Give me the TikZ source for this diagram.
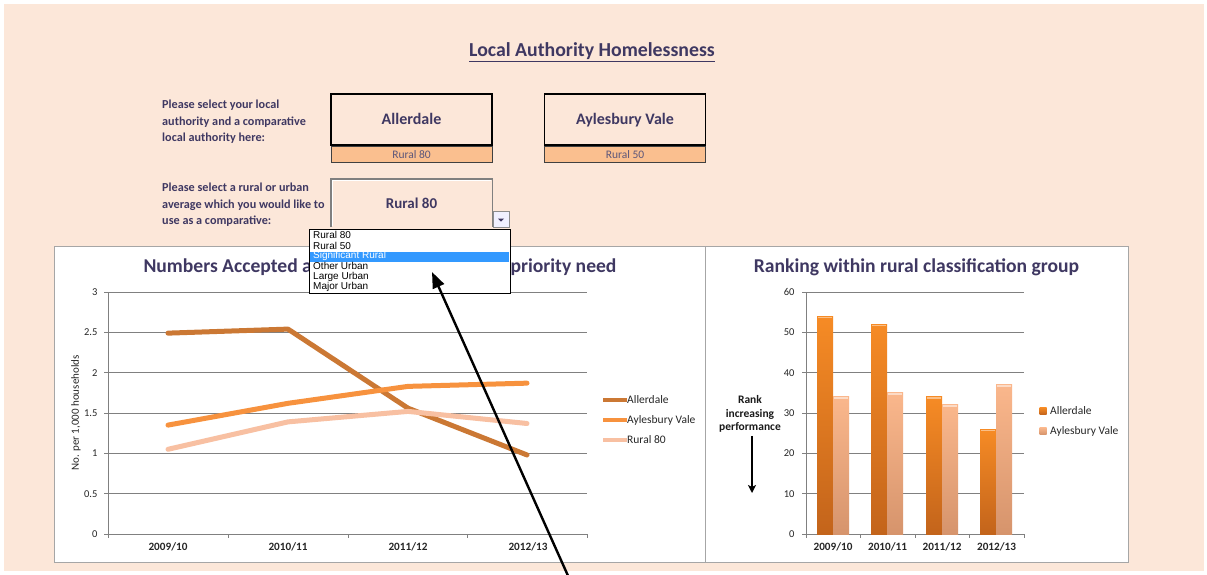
\documentclass[tikz,border=0pt]{standalone}
\usepackage{fontspec}
\setmainfont{Carlito}
\newfontfamily\listfont{Liberation Sans}
\usetikzlibrary{arrows.meta,positioning}
\definecolor{peach}{HTML}{FCE7D9}
\definecolor{navy}{HTML}{3F3862}
\definecolor{band}{HTML}{FABF8F}
\definecolor{allercol}{HTML}{CB7834}
\definecolor{aylescol}{HTML}{F7923E}
\definecolor{ruralcol}{HTML}{F8C0A2}
\definecolor{barA}{HTML}{F68B25}
\definecolor{barAdark}{HTML}{C3641B}
\definecolor{barB}{HTML}{FAB78C}
\definecolor{barBdark}{HTML}{D6946C}
\definecolor{pickblue}{HTML}{3399FF}
\tikzset{
  pickbox/.style={draw, line width=1.6pt, minimum width=161pt, minimum height=51pt,
    inner sep=0pt, text height=1.1em, text depth=0.2em, text=navy,
    font=\fontsize{16}{18}\selectfont\bfseries},
  classband/.style={draw=black!75, line width=0.8pt, fill=band, minimum width=161pt,
    minimum height=16pt, inner sep=0pt, text=navy!85, font=\fontsize{11.5}{12}\selectfont},
  asktext/.style={align=left, anchor=north west, inner sep=0pt, text=navy,
    font=\fontsize{12.2}{16.6}\selectfont\bfseries},
  chartframe/.style={draw=black!35, line width=1.3pt, fill=white, inner sep=0pt},
  charttitle/.style={text=navy, font=\fontsize{19.6}{22}\selectfont\bfseries},
  gridline/.style={draw=black!50, line width=0.8pt},
  ticklabel/.style={text=black!85, font=\fontsize{10.5}{12}\selectfont},
  catlabel/.style={text=black!85, font=\fontsize{11.2}{12}\selectfont\bfseries},
  legtext/.style={anchor=west, inner sep=0pt, text=black!85, font=\fontsize{11.5}{12}\selectfont},
  listitem/.style={anchor=west, inner sep=0pt, font=\listfont\fontsize{10}{10}\selectfont},
  serie/.style={line width=5pt, line cap=round, line join=round}
}

\begin{document}
\begin{tikzpicture}[x=1pt, y=-1pt]
\useasboundingbox (0,0) rectangle (1207,574);
\fill[peach] (4,4) rectangle (1204,571);

\node[text=navy, font=\fontsize{19.8}{22}\selectfont\bfseries] (head) at (592,52)
  {\underline{Local Authority Homelessness}};

% choices
\node[asktext] (ask1) at (162,100) {Please select your local\\authority and a comparative\\local authority here:};
\node[pickbox] (la) at (411.5,119.5) {Allerdale};
\node[classband, below=0pt of la] (laclass) {Rural 80};
\node[pickbox] (cmp) at (625,119.5) {Aylesbury Vale};
\node[classband, below=0pt of cmp] (cmpclass) {Rural 50};

\node[asktext] (ask2) at (162,183) {Please select a rural or urban\\average which you would like to\\use as a comparative:};
\node[minimum width=161pt, minimum height=48pt, inner sep=0pt, text=navy,
  font=\fontsize{15}{17}\selectfont\bfseries] (avg) at (411.5,203) {Rural 80};
\draw[black!50, line width=1.4pt] (avg.south west) |- (avg.north east) -- (avg.south east);
\draw[white, line width=0.8pt] ([xshift=1.5pt,yshift=1pt]avg.south west) |- ([xshift=-1.5pt,yshift=-1.5pt]avg.north east);
\node[draw=black!45, fill=blue!6, minimum size=16pt, inner sep=0pt] (drop) at (501,219.5) {};
\fill[navy] (drop.center) ++(-3,-1) -- ++(6,0) -- ++(-3,3) -- cycle;

% line chart
\node[chartframe, minimum width=651pt, minimum height=316pt, anchor=north west] (lchart) at (54,246) {};
\node[charttitle, anchor=west] (ltitle1) at (140,267) {Numbers Accepted a};
\node[charttitle, anchor=east] (ltitle2) at (620,267) {priority need};
\foreach \v/\t [count=\i] in {0/0,0.5/0.5,1/1,1.5/1.5,2/2,2.5/2.5,3/3}{
  \draw[gridline] (104,{534-80.67*\v}) -- (587,{534-80.67*\v});
  \node[ticklabel, anchor=east] (ly\i) at (101,{534-80.67*\v}) {\t};
}
\draw[gridline] (108,292) -- (108,538);
\foreach \x in {228,348,467,587} \draw[gridline] (\x,534) -- (\x,538);
\foreach \a/\b [count=\i] in {2009/10,2010/11,2011/12,2012/13}
  \node[catlabel] (lx\i) at (48+120*\i,547) {\a/\b};
\node[ticklabel, font=\fontsize{11}{12}\selectfont, rotate=90] (lyname) at (76,413) {No. per 1,000 households};
\begin{scope}[shift={(108,534)}, y=80.67pt]
  \draw[serie, allercol] (60,2.49) -- (180,2.54) -- (300,1.56) -- (419,0.98);
  \draw[serie, aylescol] (60,1.35) -- (180,1.62) -- (300,1.83) -- (419,1.87);
  \draw[serie, ruralcol] (60,1.05) -- (180,1.39) -- (300,1.52) -- (419,1.37);
\end{scope}
\foreach \c/\t [count=\i] in {allercol/Allerdale,aylescol/Aylesbury Vale,ruralcol/Rural 80}{
  \draw[\c, line width=4pt] (603,380+20*\i) -- (627,380+20*\i);
  \node[legtext] (lleg\i) at (627,380+20*\i) {\t};
}

% bar chart
\node[chartframe, minimum width=423pt, minimum height=316pt, anchor=north west] (rchart) at (705,246) {};
\node[charttitle] (rtitle) at (916.5,267) {Ranking within rural classification group};
\foreach \v [count=\i] in {0,10,...,60}{
  \draw[gridline] (802,{534-4.033*\v}) -- (1024,{534-4.033*\v});
  \node[ticklabel, anchor=east] (ry\i) at (798,{534-4.033*\v}) {\v};
}
\draw[gridline] (806,292) -- (806,538);
\foreach \x in {860.5,915,969.5,1024} \draw[gridline] (\x,534) -- (\x,538);
\begin{scope}[shift={(806,534)}, y=4.033pt]
  \foreach \c/\a/\b in {27/54/34,81/52/35,136/34/32,190/26/37}{
    \shade[top color=barA, bottom color=barAdark] (\c-16,0) rectangle (\c,\a);
    \shade[top color=barB, bottom color=barBdark] (\c,0) rectangle (\c+16,\b);
    \draw[barA!55!white, line width=1.5pt] (\c-15,\a-0.3) -- (\c-1,\a-0.3);
    \draw[barB!50!white, line width=1.5pt] (\c+1,\b-0.3) -- (\c+15,\b-0.3);
  }
\end{scope}
\foreach \a/\b [count=\i] in {2009/10,2010/11,2011/12,2012/13}
  \node[catlabel] (rx\i) at (778.5+54.5*\i,547) {\a/\b};
\node[align=center, text=black!90, font=\fontsize{11.5}{13.5}\selectfont\bfseries] (rank) at (750,414)
  {Rank\\increasing\\performance};
\coordinate (rankend) at (752,493);
\draw[line width=1.6pt, -{Stealth[length=8pt,width=8pt,inset=2pt]}] (rank.south -| rankend) -- (rankend);
\shade[top color=barA, bottom color=barAdark] (1039.5,407.5) rectangle (1046.5,414.5);
\shade[top color=barB, bottom color=barBdark] (1039.5,427.5) rectangle (1046.5,434.5);
\node[legtext] (rleg1) at (1050,411) {Allerdale};
\node[legtext] (rleg2) at (1050,431) {Aylesbury Vale};

% open drop-down list
\node[draw, fill=white, line width=0.8pt, minimum width=201pt, minimum height=64pt,
  inner sep=0pt, anchor=north west] (menu) at (309,229) {};
\fill[pickblue] (310,251.5) rectangle (509,261.5);
\foreach \t/\c [count=\i] in {Rural 80/black,Rural 50/black,Significant Rural/white,Other Urban/black,Large Urban/black,Major Urban/black}
  \node[listitem, text=\c] (item\i) at (313,224.8+10.4*\i) {\t};

% pointer
\coordinate (pointer) at (432,272);
\coordinate (pointerfoot) at (569,578);
\draw[line width=2.4pt, -{Triangle[length=16pt,width=12pt]}] (pointerfoot) -- (pointer);
\end{tikzpicture}
\end{document}
